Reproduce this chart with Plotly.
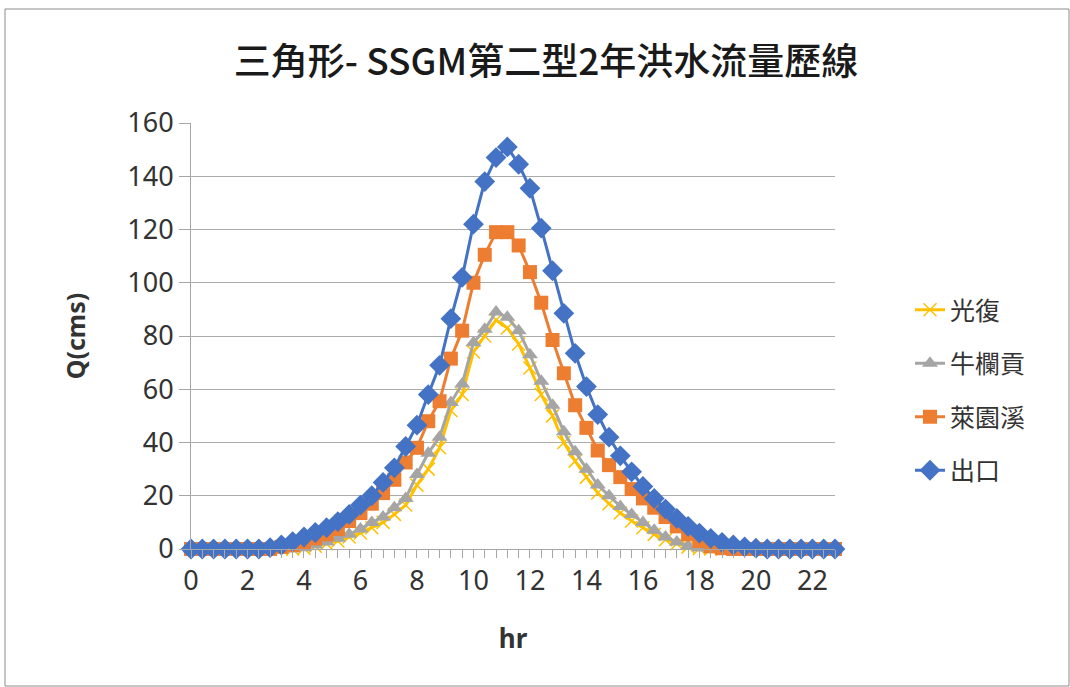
import plotly.graph_objects as go

# ---- data ----
hours = [round(i * 0.4, 1) for i in range(58)]

guangfu = [0, 0, 0, 0, 0, 0, 0, 0, 0, 0,
           0.3, 1, 2, 3, 4.5, 6, 8, 10, 13, 16.5,
           24, 30, 38, 52, 58, 74, 80, 86, 83, 77,
           68, 58, 50, 40, 33, 27, 21, 17, 13.5, 10.5,
           8, 5.5, 3.5, 2, 0.8, 0.2, 0, 0, 0, 0,
           0, 0, 0, 0, 0, 0, 0, 0]
niulangong = [0, 0, 0, 0, 0, 0, 0, 0, 0, 0,
              0.5, 1.5, 2.6, 4, 5.5, 7.5, 10, 12, 15.5, 19,
              28, 36, 42, 55, 62, 77.5, 82.5, 89, 87, 82,
              73, 63, 54, 44, 36.5, 30, 24, 20, 16, 13,
              10, 7, 4.5, 2.6, 1.2, 0.4, 0, 0, 0, 0,
              0, 0, 0, 0, 0, 0, 0, 0]
laiyuanxi = [0, 0, 0, 0, 0, 0, 0, 0, 0.8, 1.5,
             2.5, 4, 5.5, 7.5, 10.5, 13.5, 17, 21, 26, 32.5,
             38, 48, 55.5, 71.5, 82, 100, 110.5, 119, 119, 114,
             104, 92.5, 78.5, 66, 54, 45.5, 37, 31.5, 27, 22.5,
             19, 15.5, 12, 8.5, 5.5, 3, 1, 0.3, 0, 0,
             0, 0, 0, 0, 0, 0, 0, 0]
outlet = [0, 0, 0, 0, 0, 0, 0, 0.5, 1.5, 2.8,
          4.5, 6.2, 8, 10.3, 13, 16.5, 20, 25, 30.5, 38.5,
          46.5, 58, 69, 86.5, 102, 122, 138, 147, 151, 144.5,
          135.5, 120.5, 104.5, 88.5, 73.5, 61, 50.5, 42, 35, 29,
          23.5, 19, 15, 11.5, 8.5, 6, 4, 2.5, 1.5, 0.8,
          0.3, 0, 0, 0, 0, 0, 0, 0]

series_names = ["光復", "牛欄貢", "萊園溪", "出口"]
series_values = [guangfu, niulangong, laiyuanxi, outlet]
colors = ["#FFC000", "#A5A5A5", "#ED7D31", "#4472C4"]
symbols = ["x-thin", "triangle-up", "square", "diamond"]
sizes = [13, 14, 14, 16]

title_text = "三角形- SSGM第二型2年洪水流量歷線"
x_title = "hr"
y_title = "Q(cms)"

FONT = "Noto Sans, Noto Sans CJK TC, sans-serif"
CJK = "Noto Sans CJK TC, Noto Sans, sans-serif"

fig = go.Figure()
for i, (name, vals) in enumerate(zip(series_names, series_values)):
    marker = dict(symbol=symbols[i], size=sizes[i], color=colors[i])
    if symbols[i] == "x-thin":
        marker["line"] = dict(color=colors[i], width=1.5)
    fig.add_trace(go.Scatter(
        x=hours, y=vals, name=name, mode="lines+markers",
        line=dict(color=colors[i], width=3),
        marker=marker, cliponaxis=False, legendgroup=name,
    ))

L, R, T, B = 191, 835, 123, 549
W, H = 1070, 687
pw, ph = R - L, B - T

def px_x(p):
    return (p - L) / pw

def px_y(p):
    return (B - p) / ph

fig.update_layout(
    width=W, height=H,
    margin=dict(l=L, r=W - R, t=T, b=H - B, pad=0),
    paper_bgcolor="white", plot_bgcolor="white",
    title=dict(text=title_text, x=px_x(546), xanchor="center", xref="paper",
               y=1 - 62 / H, yanchor="middle",
               font=dict(family=CJK, size=37, color="#1a1a1a", weight=500)),
    font=dict(family=FONT, color="#333333"),
    showlegend=True,
    legend=dict(x=px_x(910), xanchor="left", y=px_y(287), yanchor="top",
                font=dict(family=CJK, size=25, color="#333333"),
                tracegroupgap=18, bgcolor="rgba(0,0,0,0)", traceorder="grouped"),
    xaxis=dict(range=[0, 22.8], tick0=0, dtick=2, showgrid=False, zeroline=False,
               showline=True, linecolor="#A6A6A6", linewidth=1,
               ticks="outside", ticklen=8, tickcolor="#A6A6A6",
               minor=dict(dtick=0.4, ticks="outside", ticklen=8, tickcolor="#A6A6A6", showgrid=False),
               tickfont=dict(family=FONT, size=27, color="#333333"),
               title=dict(text="<b>" + x_title + "</b>", font=dict(family=FONT, size=26, color="#333333"),
                          standoff=32)),
    yaxis=dict(range=[0, 160], dtick=20, showgrid=True, gridcolor="#ABABAB", gridwidth=1,
               zeroline=False, showline=True, linecolor="#A6A6A6", linewidth=1,
               ticks="outside", ticklen=11, tickcolor="#A6A6A6",
               tickfont=dict(family=FONT, size=27, color="#333333"),
               title=dict(text="<b>" + y_title + "</b>", font=dict(family=FONT, size=25, color="#333333"),
                          standoff=34)),
    shapes=[dict(type="rect", xref="paper", yref="paper",
                 x0=px_x(5), x1=px_x(1069), y0=px_y(686), y1=px_y(9),
                 line=dict(color="#8C8C8C", width=1), fillcolor="rgba(0,0,0,0)", layer="below")],
)

fig.write_html("out.html")
